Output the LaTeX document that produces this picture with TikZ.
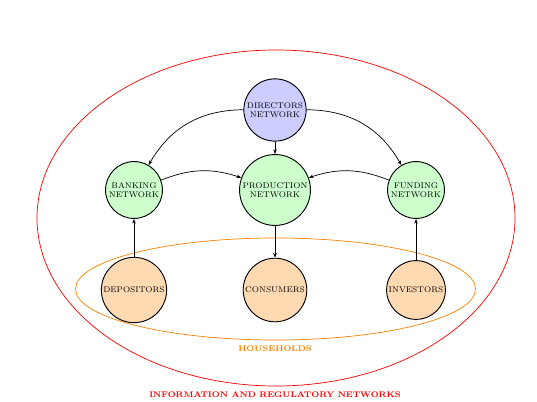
\documentclass[tikz,border=0pt]{standalone}
\usepackage{xcolor}
\usepackage{tikz}
\usetikzlibrary{arrows.meta, positioning}

\begin{document}
\begin{tikzpicture}[
  x=0.03cm, y=-0.03cm,
  agent/.style={circle, draw=black, thick, align=center, font=\scriptsize, inner sep=1.5pt},
  dirnode/.style={agent, fill=blue!20},
  netnode/.style={agent, fill=green!20},
  hhnode/.style={agent, fill=orange!30},
  arr/.style={-{Stealth[length=4pt, width=3pt]}, semithick},
  lbl/.style={font=\scriptsize\bfseries}
]
\useasboundingbox (0,0) rectangle (537,402);

% outer and household regions
\draw[red, semithick] (276,218) ellipse [x radius=239*0.03cm, y radius=168*0.03cm];
\draw[orange, semithick] (275.5,289) ellipse [x radius=200*0.03cm, y radius=51*0.03cm];
\node[lbl, text=red] (info) at (275,395) {INFORMATION AND REGULATORY NETWORKS};
\node[lbl, text=orange] (house) at (275,349) {HOUSEHOLDS};

% networks
\node[dirnode] (dir) at (275,110) {DIRECTORS\\NETWORK};
\node[netnode] (bank) at (134,190) {BANKING\\NETWORK};
\node[netnode] (prod) at (275,190) {PRODUCTION\\NETWORK};
\node[netnode] (fund) at (416,190) {FUNDING\\NETWORK};

% households
\node[hhnode] (dep) at (134,290) {DEPOSITORS};
\node[hhnode] (cons) at (275,290) {CONSUMERS};
\node[hhnode] (inv) at (416,290) {INVESTORS};

\draw[arr] (dir) to[bend right=30] (bank);
\draw[arr] (dir) -- (prod);
\draw[arr] (dir) to[bend left=30] (fund);
\draw[arr] (bank) to[bend left=20] (prod);
\draw[arr] (fund) to[bend right=20] (prod);
\draw[arr] (dep) -- (bank);
\draw[arr] (prod) -- (cons);
\draw[arr] (inv) -- (fund);
\end{tikzpicture}
\end{document}
